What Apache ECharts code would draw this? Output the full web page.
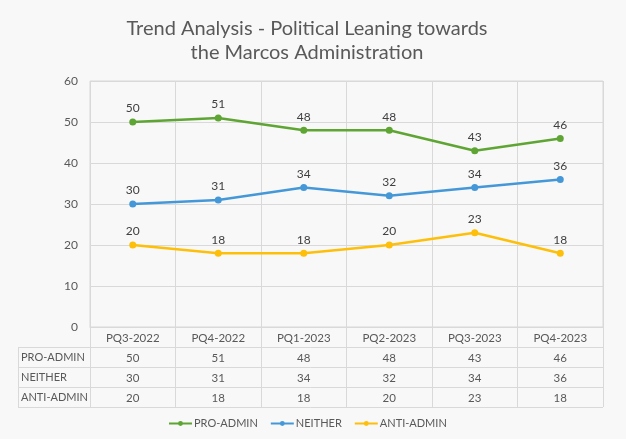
<!DOCTYPE html>
<html>
<head>
<meta charset="utf-8">
<script src="https://cdn.jsdelivr.net/npm/echarts@6/dist/echarts.min.js"></script>
<style>
html,body{margin:0;padding:0;background:#f8f8f8;}
#chart{width:626px;height:439px;}
</style>
</head>
<body>
<div id="chart"></div>
<script>
const categories = ['PQ3-2022','PQ4-2022','PQ1-2023','PQ2-2023','PQ3-2023','PQ4-2023'];
const seriesNames = ['PRO-ADMIN','NEITHER','ANTI-ADMIN'];
const proAdmin = [50, 51, 48, 48, 43, 46];
const neither = [30, 31, 34, 32, 34, 36];
const antiAdmin = [20, 18, 18, 20, 23, 18];
const yTicks = [0, 10, 20, 30, 40, 50, 60];
const titleLines = ['Trend Analysis - Political Leaning towards', 'the Marcos Administration'];

const colors = ['#5ea533', '#4598d8', '#fdbf0a'];
const seriesData = [proAdmin, neither, antiAdmin];
const FONT = 'Lato';
const TXT = '#595959';
const GRIDC = '#d9d9d9';
const ROW = 20;
const FS = 11.5;

const chart = echarts.init(document.getElementById('chart'), null, {renderer: 'canvas'});

const gridBox = {left: 90, right: 23, top: 81, bottom: 112};

const xAxes = [{
  type: 'category', data: categories, gridIndex: 0, position: 'bottom',
  boundaryGap: true,
  axisLine: {show: true, lineStyle: {color: GRIDC}},
  axisTick: {show: true, length: ROW * 4, lineStyle: {color: GRIDC}},
  axisLabel: {color: TXT, fontFamily: FONT, fontSize: FS, margin: 5},
  splitLine: {show: true, lineStyle: {color: GRIDC}}
}];
seriesData.forEach((vals, i) => {
  xAxes.push({
    type: 'category', data: vals.map(String), gridIndex: 0, position: 'bottom',
    offset: ROW * (i + 1),
    axisLine: {show: false}, axisTick: {show: false}, splitLine: {show: false},
    axisLabel: {color: TXT, fontFamily: FONT, fontSize: FS, margin: 5}
  });
});

chart.setOption({
  backgroundColor: '#f8f8f8',
  animation: false,
  legend: {
    bottom: 5, left: 163, itemGap: 12, itemWidth: 23, itemHeight: 6,
    data: seriesNames,
    textStyle: {color: TXT, fontFamily: FONT, fontSize: 11, padding: [0, 0, 0, -3]}
  },
  grid: Object.assign({show: true, borderColor: GRIDC, borderWidth: 1, backgroundColor: 'transparent'}, gridBox),
  xAxis: xAxes,
  yAxis: {
    type: 'value', min: yTicks[0], max: yTicks[yTicks.length - 1], interval: 10,
    axisLine: {show: false}, axisTick: {show: false},
    axisLabel: {color: TXT, fontFamily: FONT, fontSize: 12, margin: 12},
    splitLine: {lineStyle: {color: GRIDC}}
  },
  series: seriesData.map((vals, i) => ({
    name: seriesNames[i], type: 'line', data: vals, xAxisIndex: 0,
    color: colors[i], symbol: 'circle', symbolSize: 7,
    lineStyle: {width: 2.5, color: colors[i]},
    itemStyle: {color: colors[i]},
    label: {show: true, position: 'top', distance: 4, color: '#404040', fontFamily: FONT, fontSize: 12}
  }))
});

function drawExtras() {
  const y0 = chart.convertToPixel({yAxisIndex: 0}, 0);
  const xR = 626 - gridBox.right, tableL = 18;
  const els = [];
  const line = (x1, y1, x2, y2) => els.push({type: 'line', shape: {x1, y1, x2, y2}, style: {stroke: GRIDC, lineWidth: 1}, silent: true});
  for (let r = 1; r <= 4; r++) {
    const y = Math.round(y0 + ROW * r) + 0.5;
    line(tableL, y, xR, y);
  }
  line(tableL + 0.5, y0 + ROW, tableL + 0.5, y0 + ROW * 4);
  seriesNames.forEach((n, i) => {
    els.push({type: 'text', x: tableL + 3, y: y0 + ROW * (i + 1) + ROW / 2, silent: true,
      style: {text: n, fill: TXT, font: '11px ' + FONT, textVerticalAlign: 'middle', verticalAlign: 'middle'}});
  });
  titleLines.forEach((t, i) => {
    els.push({type: 'text', x: 307, y: 29 + 24 * i, silent: true,
      style: {text: t, fill: TXT, font: '20px ' + FONT, align: 'center', textAlign: 'center', verticalAlign: 'middle', textVerticalAlign: 'middle'}});
  });
  chart.setOption({graphic: els});
}
drawExtras();
</script>
</body>
</html>
